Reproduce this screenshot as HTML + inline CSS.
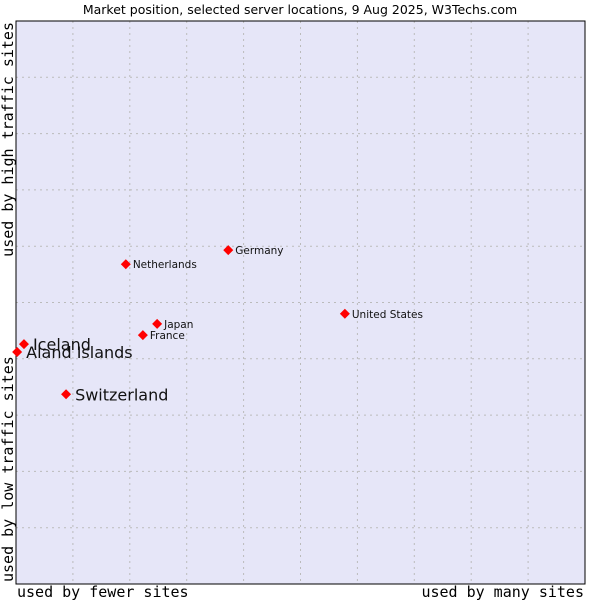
<!DOCTYPE html>
<html><head><meta charset="utf-8"><style>
body{margin:0;background:#fff;width:600px;height:600px;overflow:hidden}
svg text{font-family:"DejaVu Sans","Liberation Sans",sans-serif}
.mono{font-family:"DejaVu Sans Mono","Liberation Mono",monospace}
</style></head><body>
<svg id="chart" width="600" height="600" viewBox="0 0 600 600" xmlns="http://www.w3.org/2000/svg">
<text x="300" y="14" font-size="12.5" text-anchor="middle" fill="#000">Market position, selected server locations, 9 Aug 2025, W3Techs.com</text>
<rect x="16" y="21" width="569" height="563" fill="#e6e6f8"/>
<g id="grid"></g>
<rect x="16" y="21" width="569" height="563" fill="none" stroke="#000" stroke-width="1"/>
<g id="points"></g>
<text class="mono" x="17" y="597" font-size="15">used by fewer sites</text>
<text class="mono" x="584" y="597" font-size="15" text-anchor="end">used by many sites</text>
<text class="mono" transform="translate(13,582) rotate(-90)" font-size="15">used by low traffic sites</text>
<text class="mono" transform="translate(13,22) rotate(-90)" font-size="15" text-anchor="end">used by high traffic sites</text>
</svg>
<script>
const names=["Iceland","Aland Islands","Switzerland","Netherlands","Germany","Japan","France","United States"];
const xVals=[1.4,0.2,8.8,19.3,37.3,24.8,22.3,57.8];
const yVals=[42.6,41.2,33.7,56.8,59.3,46.2,44.2,48.0];
const bigLabel=[true,true,true,false,false,false,false,false];
const NS="http://www.w3.org/2000/svg";
const X0=16,X1=585,Y0=584,Y1=21;
function sx(v){return X0+(X1-X0)*v/100;}
function sy(v){return Y0-(Y0-Y1)*v/100;}
const grid=document.getElementById('grid');
for(let i=1;i<10;i++){
 const l=document.createElementNS(NS,'line');
 
 
 l.setAttribute('x1',sx(i*10));l.setAttribute('x2',sx(i*10));l.setAttribute('y1',Y1);l.setAttribute('y2',Y0);
 l.setAttribute('stroke','#bbb');l.setAttribute('stroke-dasharray','2,4');
 grid.appendChild(l);
 const h=document.createElementNS(NS,'line');
 
 
 h.setAttribute('y1',sy(i*10));h.setAttribute('y2',sy(i*10));h.setAttribute('x1',X0);h.setAttribute('x2',X1);
 h.setAttribute('stroke','#bbb');h.setAttribute('stroke-dasharray','2,4');
 grid.appendChild(h);
}
const pts=document.getElementById('points');
names.forEach((n,i)=>{
 const x=sx(xVals[i]),y=sy(yVals[i]);
 const d=document.createElementNS(NS,'path');
 
 
 d.setAttribute('d',`M${x} ${y-5}L${x+5} ${y}L${x} ${y+5}L${x-5} ${y}Z`);
 d.setAttribute('fill','#f00');
 pts.appendChild(d);
 const t=document.createElementNS(NS,'text');
 
 
 const big=bigLabel[i];
 t.setAttribute('x',x+(big?9:7));
 t.setAttribute('y',y+(big?6:4));
 t.setAttribute('font-size',big?16:10.5);
 t.setAttribute('fill','#111');
 t.textContent=n;
 pts.appendChild(t);
});
</script>
</body></html>
